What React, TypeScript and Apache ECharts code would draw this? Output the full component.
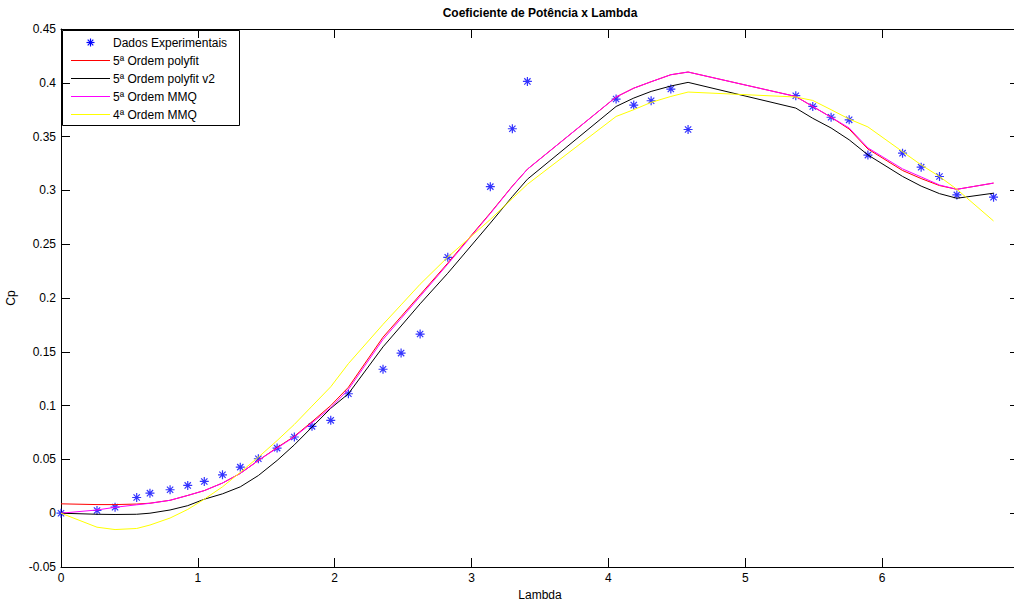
import React, { useEffect, useRef } from "react";
import * as echarts from "echarts";

const lambda = [0, 0.263, 0.395, 0.553, 0.65, 0.797, 0.926, 1.047, 1.18, 1.31, 1.442, 1.579, 1.705, 1.834, 1.971, 2.1, 2.353, 2.485, 2.624, 2.826, 3.137, 3.298, 3.408, 4.056, 4.185, 4.312, 4.456, 4.582, 5.369, 5.493, 5.627, 5.759, 5.896, 6.149, 6.285, 6.419, 6.546, 6.814];
const cpExperimental = [0, 0.0025, 0.0056, 0.0146, 0.0186, 0.0218, 0.0258, 0.0295, 0.0357, 0.0428, 0.0506, 0.0605, 0.0708, 0.0807, 0.0863, 0.111, 0.1338, 0.1488, 0.1665, 0.2378, 0.3035, 0.3573, 0.4013, 0.3849, 0.3793, 0.3833, 0.3942, 0.3566, 0.388, 0.378, 0.368, 0.3656, 0.3328, 0.3346, 0.3216, 0.3129, 0.2958, 0.2937];
const cpPolyfit5 = [0.0087, 0.008, 0.008, 0.0085, 0.0093, 0.012, 0.0165, 0.021, 0.028, 0.037, 0.049, 0.061, 0.0714, 0.085, 0.1, 0.117, 0.1636, 0.1827, 0.203, 0.2324, 0.279, 0.304, 0.3197, 0.3868, 0.395, 0.401, 0.4075, 0.41, 0.3873, 0.378, 0.368, 0.357, 0.3385, 0.3185, 0.311, 0.3045, 0.301, 0.3068];
const cpPolyfit5v2 = [0, -0.001, -0.0012, -0.001, 0, 0.003, 0.007, 0.013, 0.018, 0.0245, 0.035, 0.049, 0.0635, 0.08, 0.0975, 0.111, 0.1546, 0.174, 0.1946, 0.223, 0.2696, 0.2943, 0.3104, 0.378, 0.3858, 0.392, 0.397, 0.4004, 0.3765, 0.367, 0.358, 0.347, 0.333, 0.313, 0.304, 0.297, 0.2927, 0.2974];
const cpMMQ5 = [0, 0.003, 0.0055, 0.0078, 0.0092, 0.012, 0.0165, 0.021, 0.028, 0.037, 0.049, 0.0605, 0.071, 0.084, 0.098, 0.115, 0.1615, 0.181, 0.2015, 0.2315, 0.2785, 0.3038, 0.3197, 0.3868, 0.395, 0.401, 0.4075, 0.41, 0.3873, 0.378, 0.368, 0.358, 0.3395, 0.32, 0.3125, 0.305, 0.301, 0.3068];
const cpMMQ4 = [0, -0.013, -0.0152, -0.0142, -0.011, -0.0045, 0.0035, 0.013, 0.0245, 0.038, 0.052, 0.0675, 0.0825, 0.0995, 0.1175, 0.139, 0.1755, 0.1936, 0.2128, 0.238, 0.273, 0.2925, 0.3057, 0.3687, 0.375, 0.3818, 0.3873, 0.3914, 0.3868, 0.3836, 0.375, 0.3663, 0.359, 0.336, 0.3237, 0.3129, 0.301, 0.2716];

const seriesNames = ["Dados Experimentais", "5ª Ordem polyfit", "5ª Ordem polyfit v2", "5ª Ordem MMQ", "4ª Ordem MMQ"];
const seriesColors = ["#0000ff", "#ff0000", "#000000", "#ff00ff", "#ffff00"];
const fitSeries = [cpPolyfit5, cpPolyfit5v2, cpMMQ5, cpMMQ4];

const titleText = "Coeficiente de Potência x Lambda";
const xName = "Lambda";
const yName = "Cp";

const FONT = "Liberation Sans, Arial, Helvetica, sans-serif";
const ASTERISK = "path://M0,-4L0,4M-4,0L4,0M-2.8,-2.8L2.8,2.8M-2.8,2.8L2.8,-2.8";

export default function App() {
  const ref = useRef<HTMLDivElement>(null);
  useEffect(() => {
    if (!ref.current) return;
    const chart = echarts.init(ref.current, null, { renderer: "svg" });

    const pairs = (ys: number[]) => lambda.map((x, i) => [x, ys[i]]);

    const axisCommon = {
      axisLine: { show: true, onZero: false, lineStyle: { color: "#000", width: 1 } },
      axisTick: { show: true, inside: true, length: 9, lineStyle: { color: "#000" } },
      splitLine: { show: false },
    };

    const lgX = 62, lgY = 30, rowStep = 18, firstRow = 42;
    const legendChildren: any[] = [
      { type: "rect", shape: { x: lgX + 0.5, y: lgY + 0.5, width: 177, height: 95 }, style: { fill: "#fff", stroke: "#000", lineWidth: 1 } },
    ];
    seriesNames.forEach((name, i) => {
      const cy = firstRow + i * rowStep + 0.5;
      if (i === 0) {
        const cx = 90.5;
        const c = seriesColors[0];
        legendChildren.push(
          { type: "line", shape: { x1: cx, y1: cy - 4, x2: cx, y2: cy + 4 }, style: { stroke: c, lineWidth: 1.2 } },
          { type: "line", shape: { x1: cx - 4, y1: cy, x2: cx + 4, y2: cy }, style: { stroke: c, lineWidth: 1.2 } },
          { type: "line", shape: { x1: cx - 2.8, y1: cy - 2.8, x2: cx + 2.8, y2: cy + 2.8 }, style: { stroke: c, lineWidth: 1.2 } },
          { type: "line", shape: { x1: cx - 2.8, y1: cy + 2.8, x2: cx + 2.8, y2: cy - 2.8 }, style: { stroke: c, lineWidth: 1.2 } }
        );
      } else {
        legendChildren.push({ type: "line", shape: { x1: 71, y1: cy, x2: 110, y2: cy }, style: { stroke: seriesColors[i], lineWidth: 1 } });
      }
      legendChildren.push({
        type: "text",
        x: 113,
        y: cy,
        style: { text: name, fill: "#000", font: `12px ${FONT}`, textAlign: "left", textVerticalAlign: "middle" },
      });
    });

    chart.setOption({
      animation: false,
      backgroundColor: "#fff",
      grid: { left: 61, right: -5, top: 29, bottom: 36, containLabel: false, outerBoundsMode: "none" },
      xAxis: [
        {
          type: "value", min: 0, max: 7, interval: 1, position: "bottom",
          name: xName, nameLocation: "middle", nameGap: 22,
          nameTextStyle: { color: "#000", fontFamily: FONT, fontSize: 12 },
          axisLabel: { color: "#000", fontFamily: FONT, fontSize: 12, margin: 5, showMaxLabel: false },
          ...axisCommon,
        },
        {
          type: "value", min: 0, max: 7, interval: 1, position: "top",
          axisLabel: { show: false },
          ...axisCommon,
        },
      ],
      yAxis: [
        {
          type: "value", min: -0.05, max: 0.45, interval: 0.05, position: "left",
          name: yName, nameLocation: "middle", nameGap: 44, nameRotate: 90,
          nameTextStyle: { color: "#000", fontFamily: FONT, fontSize: 12 },
          axisLabel: { color: "#000", fontFamily: FONT, fontSize: 12, margin: 5 },
          ...axisCommon,
        },
        {
          type: "value", min: -0.05, max: 0.45, interval: 0.05, position: "right",
          axisLabel: { show: false },
          ...axisCommon,
        },
      ],
      graphic: [
        {
          type: "text", x: 540, y: 13,
          style: { text: titleText, fill: "#000", font: `bold 12px ${FONT}`, textAlign: "center", textVerticalAlign: "middle" },
        },
        { type: "group", z: 100, children: legendChildren },
      ],
      series: [
        {
          name: seriesNames[0],
          type: "scatter",
          data: pairs(cpExperimental),
          symbol: ASTERISK,
          symbolSize: 9,
          itemStyle: { color: "none", borderColor: seriesColors[0], borderWidth: 1.2 },
          z: 2,
        },
        ...fitSeries.map((ys, k) => ({
          name: seriesNames[k + 1],
          type: "line",
          data: pairs(ys),
          showSymbol: false,
          symbol: "none",
          lineStyle: { color: seriesColors[k + 1], width: 1 },
          itemStyle: { color: seriesColors[k + 1] },
          z: 3 + k,
        })),
      ],
    });
    return () => chart.dispose();
  }, []);
  return <div ref={ref} style={{ position: "fixed", left: 0, top: 0, width: 1014, height: 603, background: "#fff" }} />;
}
